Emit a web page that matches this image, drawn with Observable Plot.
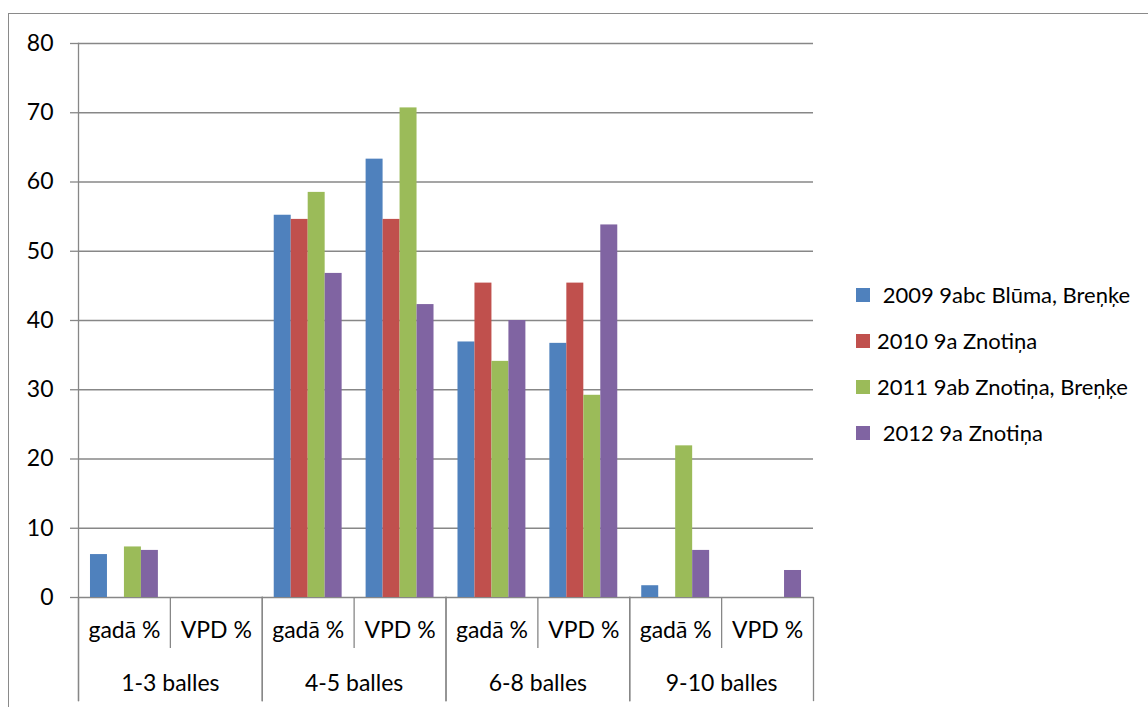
<!DOCTYPE html>
<html>
<head>
<meta charset="utf-8">
<script src="https://cdn.jsdelivr.net/npm/d3@7"></script>
<script src="https://cdn.jsdelivr.net/npm/@observablehq/plot@0.6"></script>
<style>
  html, body { margin: 0; padding: 0; background: #fff; }
  #wrap { position: relative; width: 1148px; height: 707px; overflow: hidden; font-family: Lato, sans-serif; }
  #border { position: absolute; left: 8px; top: 13px; width: 1300px; height: 900px; border: 1px solid #8a8a8a; }
  #wrap svg { position: absolute; left: 0; top: 0; }
  .lg-row { position: absolute; left: 856px; height: 30px; line-height: 30px; font-size: 22px; color: #000; white-space: pre; display: flex; align-items: center; }
  .lg-sw { width: 14px; height: 14px; display: inline-block; margin-right: 7px; }
</style>
</head>
<body>
<div id="wrap"><div id="border"></div></div>
<script>
// ---- data ----
const groups = ["1-3 balles", "4-5 balles", "6-8 balles", "9-10 balles"];
const subs = ["gadā %", "VPD %"];
const series = [" 2009 9abc Blūma, Breņķe", "2010 9a Znotiņa", "2011 9ab Znotiņa, Breņķe", " 2012 9a Znotiņa"];
const colors = ["#4F81BD", "#C0504D", "#9BBB59", "#8064A2"];
const yTicks = [0, 10, 20, 30, 40, 50, 60, 70, 80];
// values in order: 1-3 gadā, 1-3 VPD, 4-5 gadā, 4-5 VPD, 6-8 gadā, 6-8 VPD, 9-10 gadā, 9-10 VPD
const s2009 = [6.2, 0, 55.2, 63.3, 36.9, 36.7, 1.7, 0];
const s2010 = [0, 0, 54.6, 54.6, 45.4, 45.4, 0, 0];
const s2011 = [7.3, 0, 58.5, 70.7, 34.1, 29.2, 21.9, 0];
const s2012 = [6.8, 0, 46.8, 42.3, 40.0, 53.8, 6.8, 3.9];
const seriesValues = [s2009, s2010, s2011, s2012];

// ---- build tables ----
const keys = groups.flatMap(g => subs.map(s => g + "|" + s));
const rows = [];
keys.forEach((k, ki) => {
  series.forEach((s, si) => rows.push({key: k, series: s, value: seriesValues[si][ki]}));
});
const catRows = groups.flatMap(g => subs.map(s => ({group: g, sub: s})));

const W = 1148, H = 707;
const margins = {marginTop: 43, marginRight: 335, marginBottom: 110, marginLeft: 78};
const plotH = H - margins.marginTop - margins.marginBottom;
const lineColor = "#878787";
const baseStyle = {fontFamily: "Lato, sans-serif", fontSize: "23px", color: "#000", background: "transparent", overflow: "visible"};

// value axis + gridlines (unfaceted)
const valueAxis = Plot.plot({
  width: W, height: H, ...margins,
  style: baseStyle,
  y: {domain: [0, 80]},
  marks: [
    Plot.gridY(yTicks, {stroke: lineColor, strokeOpacity: 1, strokeWidth: 1.3}),
    Plot.axisY(yTicks, {tickSize: 8, tickPadding: 17, stroke: lineColor, strokeOpacity: 1, strokeWidth: 1.3, fill: "#000", label: null, fontSize: 23}),
    Plot.frame({anchor: "left", insetBottom: -103, stroke: lineColor, strokeWidth: 1.3})
  ]
});

// bars, faceted by sub-category
const bars = Plot.plot({
  width: W, height: H, ...margins,
  style: baseStyle,
  fx: {domain: keys, padding: 0, round: false, axis: null},
  x: {type: "band", domain: series, paddingInner: 0, paddingOuter: 0.706, round: false, axis: null},
  y: {domain: [0, 80], axis: null},
  color: {domain: series, range: colors},
  marks: [
    Plot.barY(rows, {fx: "key", x: "series", y: "value", fill: "series"})
  ]
});

// category axis, faceted by group
const cats = Plot.plot({
  width: W, height: H, ...margins,
  style: baseStyle,
  fx: {domain: groups, padding: 0, round: false, axis: null},
  x: {type: "band", domain: subs, padding: 0, round: false, axis: null},
  marks: [
    Plot.text(catRows, {fx: "group", x: "sub", text: "sub", frameAnchor: "bottom", dy: 40, fill: "#000", fontSize: 23}),
    Plot.text(groups, {fx: d => d, text: d => d, frameAnchor: "bottom", dy: 93, fill: "#000", fontSize: 23}),
    Plot.ruleX(groups, {fx: d => d, x: null, insetTop: plotH, insetBottom: -51, stroke: lineColor, strokeWidth: 1.3}),
    Plot.frame({anchor: "left", insetTop: plotH, insetBottom: -103, stroke: lineColor, strokeWidth: 1.3}),
    Plot.frame({anchor: "right", insetTop: plotH, insetBottom: -103, stroke: lineColor, strokeWidth: 1.3})
  ]
});

const wrap = document.getElementById("wrap");
wrap.appendChild(valueAxis);
wrap.appendChild(bars);
wrap.appendChild(cats);

// ---- legend ----
series.forEach((s, i) => {
  const row = document.createElement("div");
  row.className = "lg-row";
  row.style.top = (295 + i * 46 - 15) + "px";
  const sw = document.createElement("span");
  sw.className = "lg-sw";
  sw.style.background = colors[i];
  const tx = document.createElement("span");
  tx.textContent = s;
  row.appendChild(sw);
  row.appendChild(tx);
  wrap.appendChild(row);
});
</script>
</body>
</html>
